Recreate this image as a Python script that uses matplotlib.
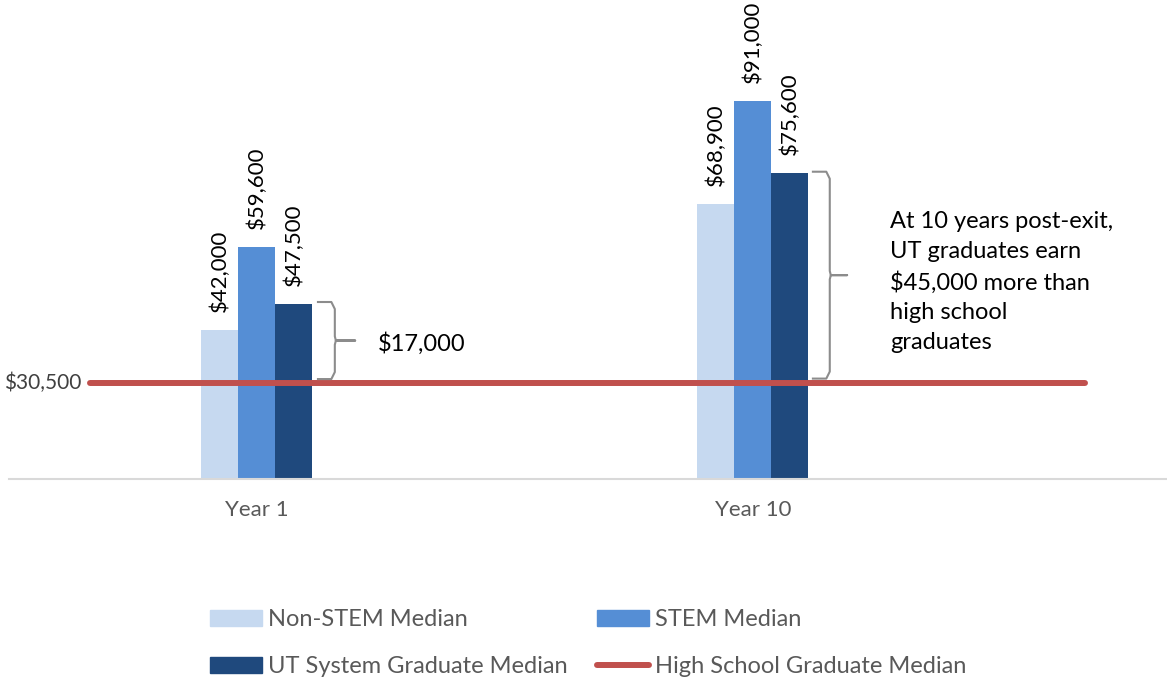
import matplotlib
matplotlib.use("Agg")
import matplotlib.pyplot as plt
from matplotlib.patches import Patch
from matplotlib.lines import Line2D
import numpy as np

plt.rcParams['font.family'] = ['Lato', 'DejaVu Sans']

categories = ["Year 1", "Year 10"]
series_names = ["Non-STEM Median", "STEM Median", "UT System Graduate Median"]
non_stem = [42000, 68900]
stem = [59600, 91000]
ut_grad = [47500, 75600]
hs_grad = 30500
hs_label = "High School Graduate Median"
hs_x_extent = [-0.337, 1.669]
gap_notes = ["$17,000", "At 10 years post-exit,\nUT graduates earn\n$45,000 more than\nhigh school\ngraduates"]

colors = ["#c6d9f0", "#558ed5", "#1f497d"]
hs_color = "#c0504d"

W, H = 1167, 681
fig = plt.figure(figsize=(W / 100, H / 100), dpi=100)
ax = fig.add_axes([9 / W, 1 - 479 / H, 1158 / W, (479 - 58.7) / H])
ax.set_xlim(-0.5, 1.835)
ax.set_ylim(10000, 100000)

x = np.arange(len(categories))
bw = 0.0746
series = [non_stem, stem, ut_grad]
for i, (vals, c) in enumerate(zip(series, colors)):
    xs = x + (i - 1) * bw
    ax.bar(xs, vals, width=bw, color=c, zorder=2)
    for xx, v in zip(xs, vals):
        ax.annotate(f"${v:,.0f}", (xx, v), xytext=(0, 13), textcoords="offset points",
                    rotation=90, ha="center", va="bottom", fontsize=16, color="black")

ax.plot(hs_x_extent, [hs_grad, hs_grad], color=hs_color, lw=4.3, solid_capstyle="round", zorder=3)
ax.annotate(f"${hs_grad:,.0f}", (hs_x_extent[0], hs_grad), xytext=(-6, 0), textcoords="offset points",
            ha="right", va="center", fontsize=15, color="#404040")

# braces
def brace(x0, xv, xt, ytop, ybot, r=0.007, ry=1500):
    ymid = (ytop + ybot) / 2
    xs = [x0, xv - r, xv, xv, xv + r * 0.3, xt, xv + r * 0.3, xv, xv, xv - r, x0]
    ys = [ytop, ytop, ytop - ry, ymid + ry * 0.6, ymid, ymid, ymid, ymid - ry * 0.6, ybot + ry, ybot, ybot]
    ax.plot(xs, ys, color="#8c8c8c", lw=1.5, zorder=3, solid_joinstyle="round")

brace(x[0] + 0.123, x[0] + 0.157, x[0] + 0.198, ut_grad[0] + 400, hs_grad + 900)
brace(x[1] + 0.121, x[1] + 0.155, x[1] + 0.19, ut_grad[1] + 200, hs_grad + 1000)

ax.text(x[0] + 0.244, (ut_grad[0] + hs_grad) / 2, gap_notes[0], ha="left", va="center",
        fontsize=17, color="black")
ax.text(x[1] + 0.276, (ut_grad[1] + hs_grad) / 2 - 900, gap_notes[1], ha="left", va="center",
        fontsize=17, color="black", linespacing=1.5)

ax.set_xticks(x)
ax.set_xticklabels(categories)
ax.tick_params(axis="x", length=0, pad=15, labelsize=16, labelcolor="#595959")
ax.set_yticks([])
for s in ["top", "right", "left"]:
    ax.spines[s].set_visible(False)
ax.spines["bottom"].set_color("#d9d9d9")
ax.spines["bottom"].set_linewidth(1.5)
ax.spines["bottom"].set_position(("data", 10000))

handles = [Patch(color=colors[0]), Patch(color=colors[2]), Patch(color=colors[1]),
           Line2D([], [], color=hs_color, lw=4.3, solid_capstyle="round")]
labels = [series_names[0], series_names[2], series_names[1], hs_label]
fig.legend(handles, labels, loc="upper left", bbox_to_anchor=(210 / W, 1 - 609 / H),
           ncol=2, frameon=False, handlelength=2.2, handleheight=0.64,
           handletextpad=0.25, columnspacing=1.27, labelspacing=1.12, borderpad=0,
           borderaxespad=0, labelcolor="#595959", fontsize=17)

fig.savefig("out.png", dpi=100)
